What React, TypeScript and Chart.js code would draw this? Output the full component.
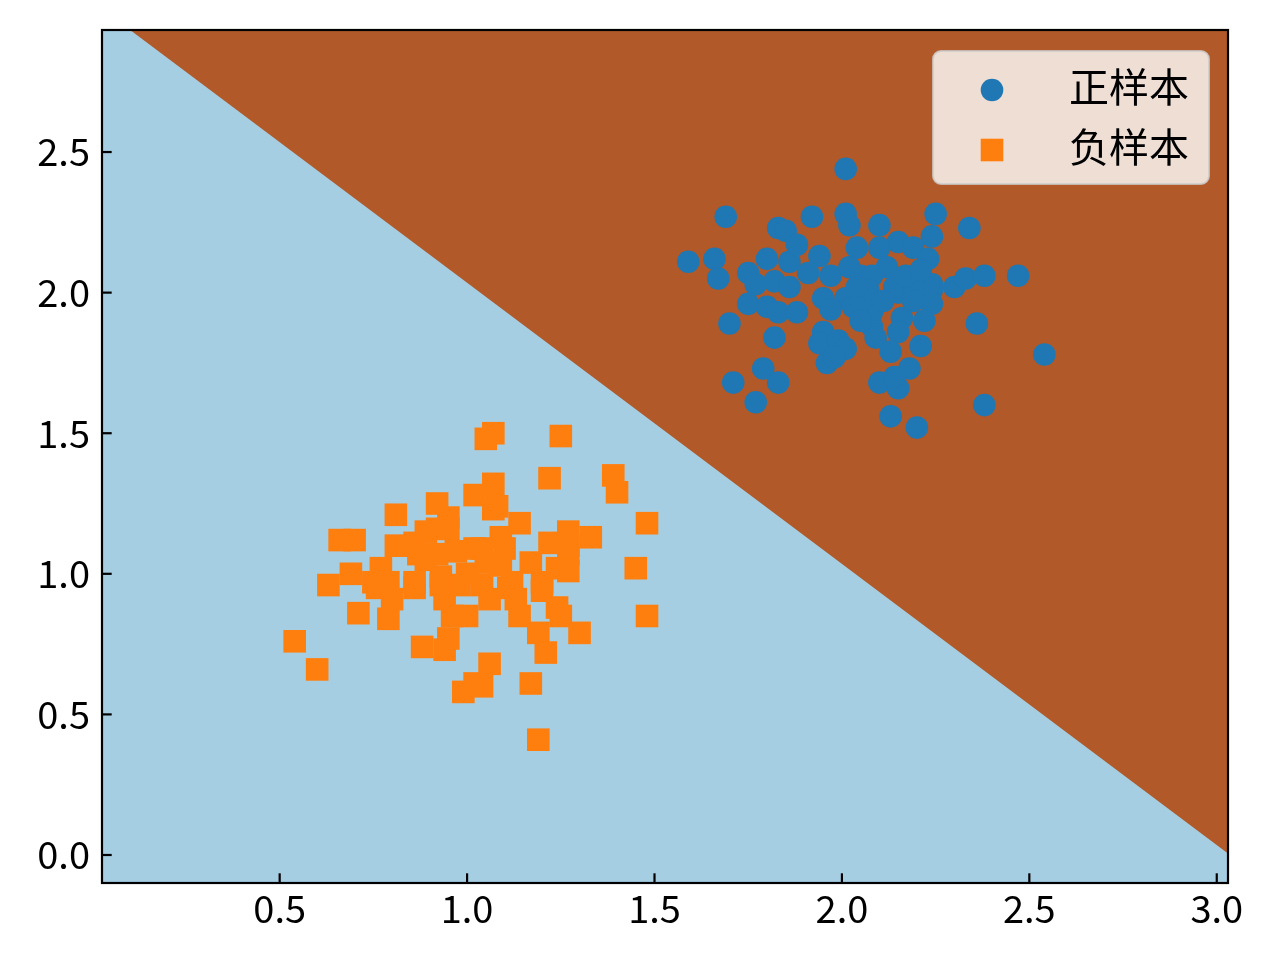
import React, { useEffect, useRef } from "react";
import { Chart, registerables } from "chart.js";

Chart.register(...registerables);

const seriesLabels = ["正样本", "负样本"];

const positiveX = [
  2.01, 1.69, 1.83, 1.85, 1.92, 2.01, 2.02, 2.10, 2.25, 2.34, 2.24, 1.59, 1.66, 1.67, 1.75, 1.80,
  1.86, 1.88, 1.94, 2.04, 1.77, 1.91, 1.97, 2.02, 2.05, 1.82, 1.86, 1.75, 1.95, 2.01, 1.70, 1.80,
  1.83, 1.88, 1.97, 2.03, 1.82, 1.95, 1.94, 1.99, 2.01, 1.96, 1.98, 1.79, 1.71, 1.83, 1.77, 2.08,
  2.09, 2.10, 2.15, 2.19, 2.23, 2.10, 2.12, 2.08, 2.18, 2.24, 2.30, 2.33, 2.38, 2.47, 2.24, 2.15,
  2.24, 2.22, 2.16, 2.15, 2.08, 2.13, 2.21, 2.36, 2.54, 2.18, 2.15, 2.14, 2.38, 2.13, 2.20, 2.05,
  2.14, 2.19, 2.07, 2.11, 2.19, 2.17, 2.05, 2.04, 2.21,
];
const positiveY = [
  2.44, 2.27, 2.23, 2.22, 2.27, 2.28, 2.24, 2.24, 2.28, 2.23, 2.20, 2.11, 2.12, 2.05, 2.07, 2.12,
  2.11, 2.17, 2.13, 2.16, 2.03, 2.07, 2.06, 2.09, 2.06, 2.04, 2.02, 1.96, 1.98, 1.98, 1.89, 1.95,
  1.93, 1.93, 1.94, 1.95, 1.84, 1.86, 1.82, 1.83, 1.80, 1.75, 1.77, 1.73, 1.68, 1.68, 1.61, 1.88,
  1.84, 1.68, 2.18, 2.16, 2.12, 2.16, 2.09, 2.06, 2.05, 2.03, 2.02, 2.05, 2.06, 2.06, 2.01, 2.00,
  1.96, 1.90, 1.91, 1.86, 1.93, 1.79, 1.81, 1.89, 1.78, 1.73, 1.66, 1.70, 1.60, 1.56, 1.52, 1.97,
  2.02, 2.01, 2.01, 1.97, 1.97, 2.06, 1.90, 2.02, 2.08,
];

const negativeX = [
  1.05, 1.07, 1.25, 1.39, 1.40, 1.22, 1.07, 1.02, 0.92, 1.08, 1.07, 0.81, 0.95, 0.66, 0.70, 1.14,
  1.48, 1.27, 1.33, 1.09, 0.92, 0.95, 0.89, 0.86, 0.81, 0.87, 0.92, 0.97, 1.02, 1.04, 1.10, 1.22,
  1.27, 1.27, 1.17, 1.24, 1.27, 1.05, 1.00, 0.93, 0.77, 0.69, 0.63, 0.79, 0.75, 0.86, 0.86, 0.76,
  0.80, 0.71, 0.79, 0.93, 0.94, 0.96, 1.00, 0.95, 0.88, 0.94, 0.54, 0.60, 0.99, 1.02, 1.04, 1.11,
  1.13, 1.06, 1.14, 1.20, 1.24, 1.25, 1.19, 1.30, 1.21, 1.48, 1.06, 1.04, 1.17, 1.19, 1.45, 1.12,
  1.20, 0.89, 1.09, 0.98,
];
const negativeY = [
  1.48, 1.50, 1.49, 1.35, 1.29, 1.34, 1.32, 1.28, 1.25, 1.24, 1.23, 1.21, 1.20, 1.12, 1.12, 1.18,
  1.18, 1.15, 1.13, 1.13, 1.16, 1.16, 1.15, 1.11, 1.10, 1.07, 1.07, 1.08, 1.09, 1.09, 1.09, 1.11,
  1.10, 1.07, 1.04, 1.02, 1.01, 1.04, 1.00, 0.99, 1.02, 1.00, 0.96, 0.97, 0.97, 0.97, 0.95, 0.95,
  0.91, 0.86, 0.84, 0.96, 0.91, 0.85, 0.85, 0.77, 0.74, 0.73, 0.76, 0.66, 0.58, 0.61, 0.96, 0.95,
  0.91, 0.91, 0.85, 0.94, 0.88, 0.85, 0.79, 0.79, 0.72, 0.85, 0.68, 0.60, 0.61, 0.41, 1.02, 0.97,
  0.97, 1.05, 1.03, 0.96,
];

// decision boundary crossing points (top edge, right edge)
const boundaryX = [0.101, 3.03];
const boundaryY = [2.934, 0.005];

const xRange = [0.026, 3.03];
const yRange = [-0.0996, 2.934];
const xTicks = [0.5, 1.0, 1.5, 2.0, 2.5, 3.0];
const yTicks = [0.0, 0.5, 1.0, 1.5, 2.0, 2.5];

const COLOR_POS = "#1f77b4";
const COLOR_NEG = "#ff7f0e";
const REGION_LOW = "#a6cee3";
const REGION_HIGH = "#b15928";
const FONT = "'Noto Sans CJK SC', 'Noto Sans', sans-serif";
const FONT_SIZE = 38;
const LEGEND_FONT_SIZE = 40;

const decorPlugin = {
  id: "decor",
  beforeDatasetsDraw(chart: any) {
    const { ctx, chartArea: a } = chart;
    ctx.save();
    ctx.fillStyle = REGION_LOW;
    ctx.fillRect(a.left, a.top, a.right - a.left, a.bottom - a.top);
    ctx.restore();
  },
  afterDatasetsDraw(chart: any) {
    const { ctx, chartArea: a, scales } = chart;
    ctx.save();
    ctx.strokeStyle = "#000";
    ctx.lineWidth = 2.2;
    const tl = 9.7;
    for (const t of scales.x.ticks) {
      const px = scales.x.getPixelForValue(t.value);
      ctx.beginPath();
      ctx.moveTo(px, a.bottom);
      ctx.lineTo(px, a.bottom - tl);
      ctx.stroke();
    }
    for (const t of scales.y.ticks) {
      const py = scales.y.getPixelForValue(t.value);
      ctx.beginPath();
      ctx.moveTo(a.left, py);
      ctx.lineTo(a.left + tl, py);
      ctx.stroke();
    }
    ctx.strokeRect(a.left, a.top, a.right - a.left, a.bottom - a.top);
    ctx.restore();
  },
  afterDraw(chart: any) {
    const { ctx, chartArea: a } = chart;
    const bx = a.right - 295;
    const by = a.top + 21;
    const bw = 276;
    const bh = 133;
    const r = 8;
    ctx.save();
    ctx.beginPath();
    ctx.moveTo(bx + r, by);
    ctx.arcTo(bx + bw, by, bx + bw, by + bh, r);
    ctx.arcTo(bx + bw, by + bh, bx, by + bh, r);
    ctx.arcTo(bx, by + bh, bx, by, r);
    ctx.arcTo(bx, by, bx + bw, by, r);
    ctx.closePath();
    ctx.fillStyle = "rgba(255,255,255,0.8)";
    ctx.fill();
    ctx.strokeStyle = "rgba(204,204,204,0.8)";
    ctx.lineWidth = 2;
    ctx.stroke();

    const ds = chart.data.datasets;
    const rows = [ds[1], ds[0]];
    rows.forEach((d: any, i: number) => {
      const cy = by + 39 + i * 60;
      const cx = bx + 59;
      ctx.fillStyle = d.backgroundColor;
      if (d.pointStyle === "rect") {
        ctx.fillRect(cx - 11.3, cy - 11.3, 22.6, 22.6);
      } else {
        ctx.beginPath();
        ctx.arc(cx, cy, 11.3, 0, Math.PI * 2);
        ctx.fill();
      }
      ctx.fillStyle = "#000";
      ctx.font = `${LEGEND_FONT_SIZE}px ${FONT}`;
      ctx.textBaseline = "middle";
      ctx.textAlign = "left";
      ctx.fillText(d.label, bx + 136, cy - 3);
    });
    ctx.restore();
  },
};

export default function App() {
  const ref = useRef<HTMLCanvasElement | null>(null);
  useEffect(() => {
    if (!ref.current) return;
    const posData = positiveX.map((x, i) => ({ x, y: positiveY[i] }));
    const negData = negativeX.map((x, i) => ({ x, y: negativeY[i] }));
    const boundary = boundaryX.map((x, i) => ({ x, y: boundaryY[i] }));
    const chart = new Chart(ref.current, {
      type: "scatter",
      data: {
        datasets: [
          {
            label: seriesLabels[1],
            data: negData,
            backgroundColor: COLOR_NEG,
            borderWidth: 0,
            pointStyle: "rect",
            pointRadius: 16,
            pointHoverRadius: 16,
            order: 1,
          } as any,
          {
            label: seriesLabels[0],
            data: posData,
            backgroundColor: COLOR_POS,
            borderWidth: 0,
            pointStyle: "circle",
            pointRadius: 11.3,
            pointHoverRadius: 11.3,
            order: 2,
          } as any,
          {
            type: "line",
            label: "boundary",
            data: boundary,
            backgroundColor: REGION_HIGH,
            borderWidth: 0,
            pointRadius: 0,
            fill: "end",
            order: 3,
          } as any,
        ],
      },
      options: {
        animation: false,
        responsive: false,
        devicePixelRatio: 1,
        layout: { padding: { left: 0, right: 52, top: 30, bottom: 0 } },
        plugins: { legend: { display: false }, tooltip: { enabled: false } },
        events: [],
        scales: {
          x: {
            type: "linear",
            min: xRange[0],
            max: xRange[1],
            grid: { display: false, drawTicks: false },
            border: { display: false },
            ticks: {
              color: "#000",
              font: { family: FONT, size: FONT_SIZE },
              padding: 3,
              maxRotation: 0,
              autoSkip: false,
              callback: (v: any) => Number(v).toFixed(1),
            },
            afterBuildTicks: (s: any) => {
              s.ticks = xTicks.map((v) => ({ value: v }));
            },
            afterFit: (s: any) => {
              s.height = 77;
              s.paddingLeft = 0;
              s.paddingRight = 0;
            },
          },
          y: {
            type: "linear",
            min: yRange[0],
            max: yRange[1],
            grid: { display: false, drawTicks: false },
            border: { display: false },
            ticks: {
              color: "#000",
              font: { family: FONT, size: FONT_SIZE },
              padding: 12,
              autoSkip: false,
              callback: (v: any) => Number(v).toFixed(1),
            },
            afterBuildTicks: (s: any) => {
              s.ticks = yTicks.map((v) => ({ value: v }));
            },
            afterFit: (s: any) => {
              s.width = 102;
              s.paddingTop = 0;
              s.paddingBottom = 0;
            },
          },
        },
      },
      plugins: [decorPlugin],
    });
    return () => chart.destroy();
  }, []);
  return (
    <div style={{ position: "absolute", left: 0, top: 0, width: 1280, height: 960, background: "#fff" }}>
      <canvas ref={ref} width={1280} height={960} style={{ width: 1280, height: 960 }} />
    </div>
  );
}
